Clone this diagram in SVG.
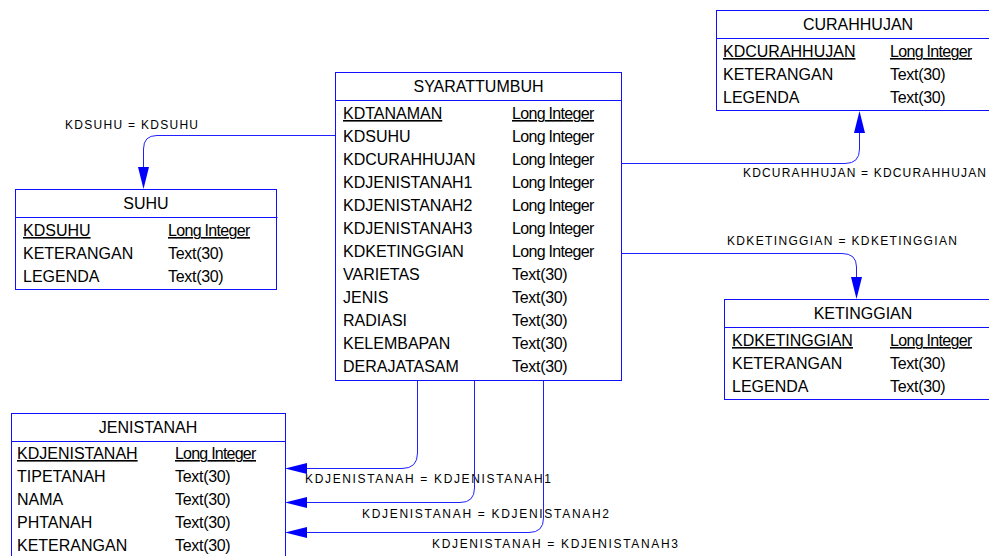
<svg xmlns="http://www.w3.org/2000/svg" width="989" height="556" viewBox="0 0 989 556">
  <style>
    .box { fill: #ffffff; stroke: #1010ff; stroke-width: 1; }
    .sep { stroke: #1010ff; stroke-width: 1; }
    .title { font-family: "Liberation Sans", Arial, sans-serif; font-size: 16px; fill: #000; text-anchor: middle; }
    .col { font-family: "Liberation Sans", Arial, sans-serif; font-size: 16px; fill: #000; }
    .typ { font-family: "Liberation Sans", Arial, sans-serif; font-size: 16px; fill: #000; letter-spacing: -0.3px; }
    .pk { text-decoration: underline; }
    .link { fill: none; stroke: #2020ff; stroke-width: 1; }
    .head { fill: #0000ff; stroke: none; }
    .lbl { font-family: "Liberation Sans", Arial, sans-serif; font-size: 12px; fill: #000; }
  </style>

  <!-- relationships -->
  <g id="connectors">
    <!-- SYARATTUMBUH -> SUHU -->
    <path class="link" d="M335,135.5 H157 Q143.5,135.5 143.5,149 V167"/>
    <polygon class="head" points="143.5,189 138,167 149,167"/>
    <text class="lbl" x="65" y="129" textLength="133">KDSUHU = KDSUHU</text>

    <!-- SYARATTUMBUH -> CURAHHUJAN -->
    <path class="link" d="M622,163.5 H845 Q859.5,163.5 859.5,149 V133"/>
    <polygon class="head" points="859.5,111 854,133 865,133"/>
    <text class="lbl" x="743" y="177" textLength="243">KDCURAHHUJAN = KDCURAHHUJAN</text>

    <!-- SYARATTUMBUH -> KETINGGIAN -->
    <path class="link" d="M622,253.5 H842 Q856.5,253.5 856.5,267 V277"/>
    <polygon class="head" points="856.5,299 851,277 862,277"/>
    <text class="lbl" x="727" y="245" textLength="230">KDKETINGGIAN = KDKETINGGIAN</text>

    <!-- SYARATTUMBUH -> JENISTANAH (three references) -->
    <path class="link" d="M417.5,381 V453 Q417.5,468.5 402,468.5 H307"/>
    <polygon class="head" points="285,468.5 307,463 307,474"/>
    <text class="lbl" x="305" y="483" textLength="246">KDJENISTANAH = KDJENISTANAH1</text>

    <path class="link" d="M474.5,381 V488 Q474.5,502.5 460,502.5 H307"/>
    <polygon class="head" points="285,502.5 307,497 307,508"/>
    <text class="lbl" x="362" y="518" textLength="247">KDJENISTANAH = KDJENISTANAH2</text>

    <path class="link" d="M543.5,381 V518 Q543.5,532.5 529,532.5 H307"/>
    <polygon class="head" points="285,532.5 307,527 307,538"/>
    <text class="lbl" x="432" y="548" textLength="246">KDJENISTANAH = KDJENISTANAH3</text>
  </g>

  <!-- tables -->
  <g id="syarattumbuh">
    <rect class="box" x="335.5" y="72.5" width="286" height="308"/>
    <line class="sep" x1="335.5" y1="100.5" x2="621.5" y2="100.5"/>
    <text class="title" x="478.5" y="92">SYARATTUMBUH</text>
    <text class="col pk" x="343" y="119">KDTANAMAN</text>
    <text class="col" x="343" y="142">KDSUHU</text>
    <text class="col" x="343" y="165">KDCURAHHUJAN</text>
    <text class="col" x="343" y="188">KDJENISTANAH1</text>
    <text class="col" x="343" y="211">KDJENISTANAH2</text>
    <text class="col" x="343" y="234">KDJENISTANAH3</text>
    <text class="col" x="343" y="257">KDKETINGGIAN</text>
    <text class="col" x="343" y="280">VARIETAS</text>
    <text class="col" x="343" y="303">JENIS</text>
    <text class="col" x="343" y="326">RADIASI</text>
    <text class="col" x="343" y="349">KELEMBAPAN</text>
    <text class="col" x="343" y="372">DERAJATASAM</text>
    <text class="typ pk" x="512" y="119" textLength="82">Long Integer</text>
    <text class="typ" x="512" y="142" textLength="82">Long Integer</text>
    <text class="typ" x="512" y="165" textLength="82">Long Integer</text>
    <text class="typ" x="512" y="188" textLength="82">Long Integer</text>
    <text class="typ" x="512" y="211" textLength="82">Long Integer</text>
    <text class="typ" x="512" y="234" textLength="82">Long Integer</text>
    <text class="typ" x="512" y="257" textLength="82">Long Integer</text>
    <text class="typ" x="512" y="280">Text(30)</text>
    <text class="typ" x="512" y="303">Text(30)</text>
    <text class="typ" x="512" y="326">Text(30)</text>
    <text class="typ" x="512" y="349">Text(30)</text>
    <text class="typ" x="512" y="372">Text(30)</text>
  </g>

  <g id="curahhujan">
    <rect class="box" x="716.5" y="10.5" width="284" height="100"/>
    <line class="sep" x1="716.5" y1="38.5" x2="1000.5" y2="38.5"/>
    <text class="title" x="858" y="30">CURAHHUJAN</text>
    <text class="col pk" x="723" y="57">KDCURAHHUJAN</text>
    <text class="col" x="723" y="80">KETERANGAN</text>
    <text class="col" x="723" y="103">LEGENDA</text>
    <text class="typ pk" x="890" y="57" textLength="82">Long Integer</text>
    <text class="typ" x="890" y="80">Text(30)</text>
    <text class="typ" x="890" y="103">Text(30)</text>
  </g>

  <g id="suhu">
    <rect class="box" x="15.5" y="189.5" width="261" height="100"/>
    <line class="sep" x1="15.5" y1="217.5" x2="277.5" y2="217.5"/>
    <text class="title" x="146" y="209">SUHU</text>
    <text class="col pk" x="23" y="236">KDSUHU</text>
    <text class="col" x="23" y="259">KETERANGAN</text>
    <text class="col" x="23" y="282">LEGENDA</text>
    <text class="typ pk" x="168" y="236" textLength="82">Long Integer</text>
    <text class="typ" x="168" y="259">Text(30)</text>
    <text class="typ" x="168" y="282">Text(30)</text>
  </g>

  <g id="ketinggian">
    <rect class="box" x="724.5" y="299.5" width="280" height="100"/>
    <line class="sep" x1="724.5" y1="327.5" x2="1004.5" y2="327.5"/>
    <text class="title" x="863" y="319">KETINGGIAN</text>
    <text class="col pk" x="732" y="346">KDKETINGGIAN</text>
    <text class="col" x="732" y="369">KETERANGAN</text>
    <text class="col" x="732" y="392">LEGENDA</text>
    <text class="typ pk" x="890" y="346" textLength="82">Long Integer</text>
    <text class="typ" x="890" y="369">Text(30)</text>
    <text class="typ" x="890" y="392">Text(30)</text>
  </g>

  <g id="jenistanah">
    <rect class="box" x="11.5" y="413.5" width="274" height="160"/>
    <line class="sep" x1="11.5" y1="441.5" x2="285.5" y2="441.5"/>
    <text class="title" x="148" y="433">JENISTANAH</text>
    <text class="col pk" x="17" y="459">KDJENISTANAH</text>
    <text class="col" x="17" y="482">TIPETANAH</text>
    <text class="col" x="17" y="505">NAMA</text>
    <text class="col" x="17" y="528">PHTANAH</text>
    <text class="col" x="17" y="551">KETERANGAN</text>
    <text class="typ pk" x="175" y="459" textLength="81">Long Integer</text>
    <text class="typ" x="175" y="482">Text(30)</text>
    <text class="typ" x="175" y="505">Text(30)</text>
    <text class="typ" x="175" y="528">Text(30)</text>
    <text class="typ" x="175" y="551">Text(30)</text>
  </g>
</svg>
